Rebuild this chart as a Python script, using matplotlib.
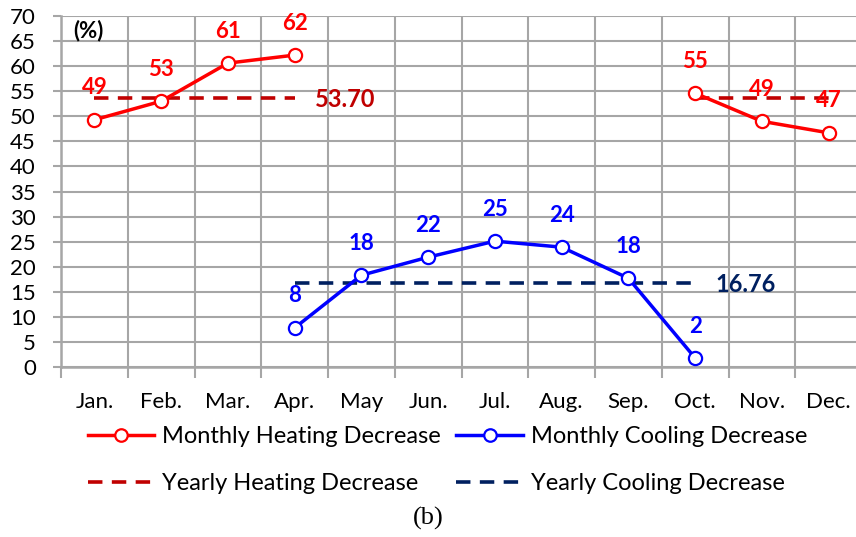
import numpy as np
import matplotlib.pyplot as plt
from matplotlib.lines import Line2D

# 数据
months = ['Jan.', 'Feb.', 'Mar.', 'Apr.', 'May', 'Jun.', 'Jul.', 'Aug.', 'Sep.', 'Oct.', 'Nov.', 'Dec.']
heating = [49.3, 53.0, 60.6, 62.2, np.nan, np.nan, np.nan, np.nan, np.nan, 54.6, 49.0, 46.7]
cooling = [np.nan, np.nan, np.nan, 7.8, 18.3, 21.9, 25.1, 23.9, 17.7, 1.8, np.nan, np.nan]
yearly_heating = 53.70
yearly_cooling = 16.76

RED = '#FF0000'
BLUE = '#0000FF'
DARK_RED = '#C00000'
NAVY = '#002060'
GRID = '#A6A6A6'

plt.rcParams['font.family'] = ['Lato', 'DejaVu Sans']

fig = plt.figure(figsize=(8.56, 5.37), dpi=100)
ax = fig.add_axes([61 / 856, 170 / 537, 801 / 856, 351 / 537])

x = np.arange(len(months))

# 月度曲线
ax.plot(x, heating, color=RED, lw=2.5, marker='o', ms=9.5,
        mfc='white', mec=RED, mew=1.6, zorder=4)
ax.plot(x, cooling, color=BLUE, lw=2.5, marker='o', ms=9.5,
        mfc='white', mec=BLUE, mew=1.6, zorder=4)

# 年度平均虚线（只画在有数据的月份范围）
c = np.array(cooling)
for seg in (x[:4], x[9:]):
    ax.plot(seg, [yearly_heating] * len(seg), color=DARK_RED, lw=2.6,
            dashes=(4, 2.6), zorder=3)
cx = x[~np.isnan(c)]
ax.plot(cx, [yearly_cooling] * len(cx), color=NAVY, lw=2.6, dashes=(4, 2.6), zorder=3)

ax.text(3.3, yearly_heating - 0.4, f'{yearly_heating:.2f}', color=DARK_RED,
        fontsize=17, fontweight='bold', ha='left', va='center')
ax.text(9.31, yearly_cooling - 0.4, f'{yearly_cooling:.2f}', color=NAVY,
        fontsize=17, fontweight='bold', ha='left', va='center')

# 数据标签
for xi, v in zip(x, heating):
    if not np.isnan(v):
        ax.annotate(f'{v:.0f}', (xi, v), xytext=(0, 23), textcoords='offset points',
                    ha='center', va='center', color=RED, fontsize=16, fontweight='bold')
for xi, v in zip(x, cooling):
    if not np.isnan(v):
        ax.annotate(f'{v:.0f}', (xi, v), xytext=(0, 23), textcoords='offset points',
                    ha='center', va='center', color=BLUE, fontsize=16, fontweight='bold')

ax.text(-0.09, 67.2, '(%)', fontsize=16, fontweight='bold', ha='center', va='center')

# 坐标轴
ax.set_xlim(-0.5, 11.5)
ax.set_ylim(0, 70)
ax.set_yticks(np.arange(0, 71, 5))
ax.set_xticks(np.arange(-0.5, 12, 1))
ax.set_xticklabels([])
ax.set_xticks(x, minor=True)
ax.set_xticklabels(months, minor=True)
ax.tick_params(axis='x', which='major', length=8, width=1.5, color=GRID, direction='out')
ax.tick_params(axis='x', which='minor', length=0, pad=18, labelsize=16)
ax.tick_params(axis='y', length=6, width=1.5, color=GRID, direction='out', pad=12, labelsize=16)
ax.grid(True, which='major', color=GRID, lw=1.5)
ax.set_axisbelow(True)
for s in ('top', 'right'):
    ax.spines[s].set_visible(False)
for s in ('left', 'bottom'):
    ax.spines[s].set_color(GRID)
    ax.spines[s].set_linewidth(1.8)

# 图例
handles = [
    Line2D([], [], color=RED, lw=2.5, marker='o', ms=9, mfc='white', mec=RED, mew=1.6),
    Line2D([], [], color=DARK_RED, lw=2.6, dashes=(4, 2.6)),
    Line2D([], [], color=BLUE, lw=2.5, marker='o', ms=9, mfc='white', mec=BLUE, mew=1.6),
    Line2D([], [], color=NAVY, lw=2.6, dashes=(4, 2.6)),
]
labels = ['Monthly Heating Decrease', 'Yearly Heating Decrease',
          'Monthly Cooling Decrease', 'Yearly Cooling Decrease']
fig.legend(handles, labels, loc='upper left', bbox_to_anchor=(88 / 856, 1 - 426 / 537),
           ncol=2, frameon=False, fontsize=17, handlelength=2.8, handletextpad=0.35,
           columnspacing=0.65, labelspacing=1.1, borderpad=0, borderaxespad=0)

fig.text(428 / 856, 1 - 518 / 537, '(b)', family='Liberation Serif', fontsize=19,
         ha='center', va='center')

fig.savefig('out.png', dpi=100)
